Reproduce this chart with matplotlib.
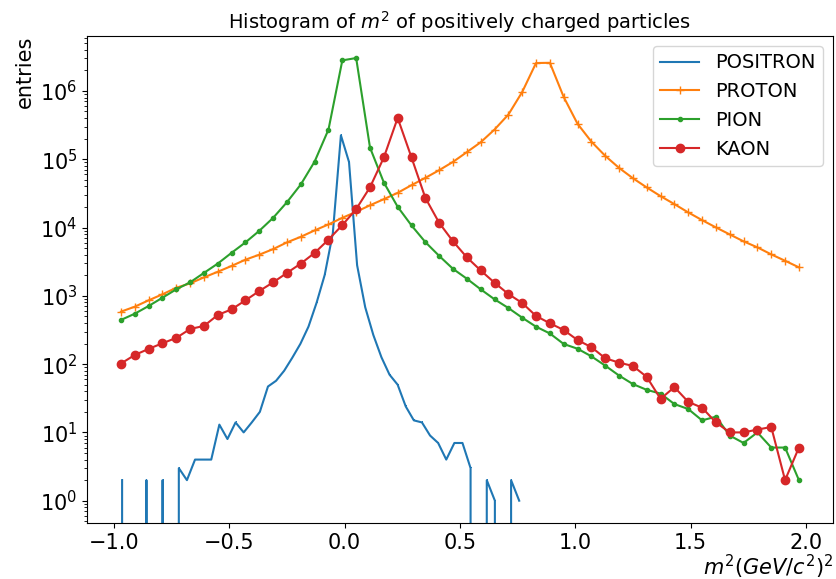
import numpy as np
import matplotlib
matplotlib.use('Agg')
import matplotlib.pyplot as plt

# bin centres: 50 bins on [-1, 2] for the hadrons, positron has its own range
bin_centres = np.linspace(-0.97, 1.97, 50)
positron_centres = np.linspace(-0.965, 0.757, 50)

positron = [2, 0, 0, 2, 0, 2, 0, 3, 2, 4, 4, 4, 13, 8, 14, 10, 14, 20, 47, 57,
            80, 124, 198, 354, 792, 2020, 8200, 224000, 91000, 2800,
            680, 267, 126, 70, 50, 24, 15, 14, 9, 7, 4, 7, 7, 3, 0, 2, 1, 0, 2, 1]

proton = [586, 693, 859, 1052, 1313, 1520, 1862, 2250, 2740, 3380,
          4000, 4830, 6060, 7310, 9070, 11100, 13860, 16980, 21150, 26000,
          32200, 41700, 53300, 69100, 91400, 127000, 177000, 272000, 450000, 963000,
          2560000, 2580000, 815000, 330000, 181000, 112000, 74600, 52700, 38600, 28800,
          22000, 16630, 12830, 10030, 7920, 6270, 5120, 4040, 3260, 2610]

pion = [443, 547, 709, 938, 1245, 1575, 2165, 2965, 4270, 6060,
        8950, 13860, 23500, 42700, 92500, 272000, 2800000, 3030000, 148000, 45600,
        20100, 10720, 6120, 3840, 2480, 1780, 1245, 889, 663, 478,
        353, 281, 197, 168, 130, 95, 68, 51, 42, 37,
        26, 22, 15, 17, 9, 7, 10, 6, 6, 2]

kaon = [102, 136, 167, 202, 242, 327, 362, 524, 634, 859,
        1175, 1575, 2165, 2965, 4250, 6650, 10850, 18580, 38800, 106000,
        402000, 106000, 27200, 11700, 6270, 3660, 2350, 1555, 1063, 785,
        507, 396, 316, 225, 177, 122, 105, 94, 65, 31,
        46, 28, 23, 14, 10, 10, 11, 12, 2, 6]

fig, ax = plt.subplots(figsize=(8.37, 5.79), dpi=100)
ax.plot(positron_centres, positron, marker=',', label='POSITRON')
ax.plot(bin_centres, proton, marker='+', label='PROTON')
ax.plot(bin_centres, pion, marker='.', label='PION')
ax.plot(bin_centres, kaon, marker='o', label='KAON')
ax.set_yscale('log')

ax.set_title('Histogram of $m^2$ of positively charged particles', fontsize=14, pad=5)
ax.set_xlabel('$m^2 (GeV/c^2)^2$', fontsize=15, loc='right', labelpad=0)
ax.set_ylabel('entries', fontsize=15, loc='top')
ax.tick_params(axis='both', which='major', labelsize=15)
ax.legend(loc='upper right', fontsize=14)

plt.subplots_adjust(left=0.104, right=0.995, top=0.938, bottom=0.097)
plt.savefig('out.png')
